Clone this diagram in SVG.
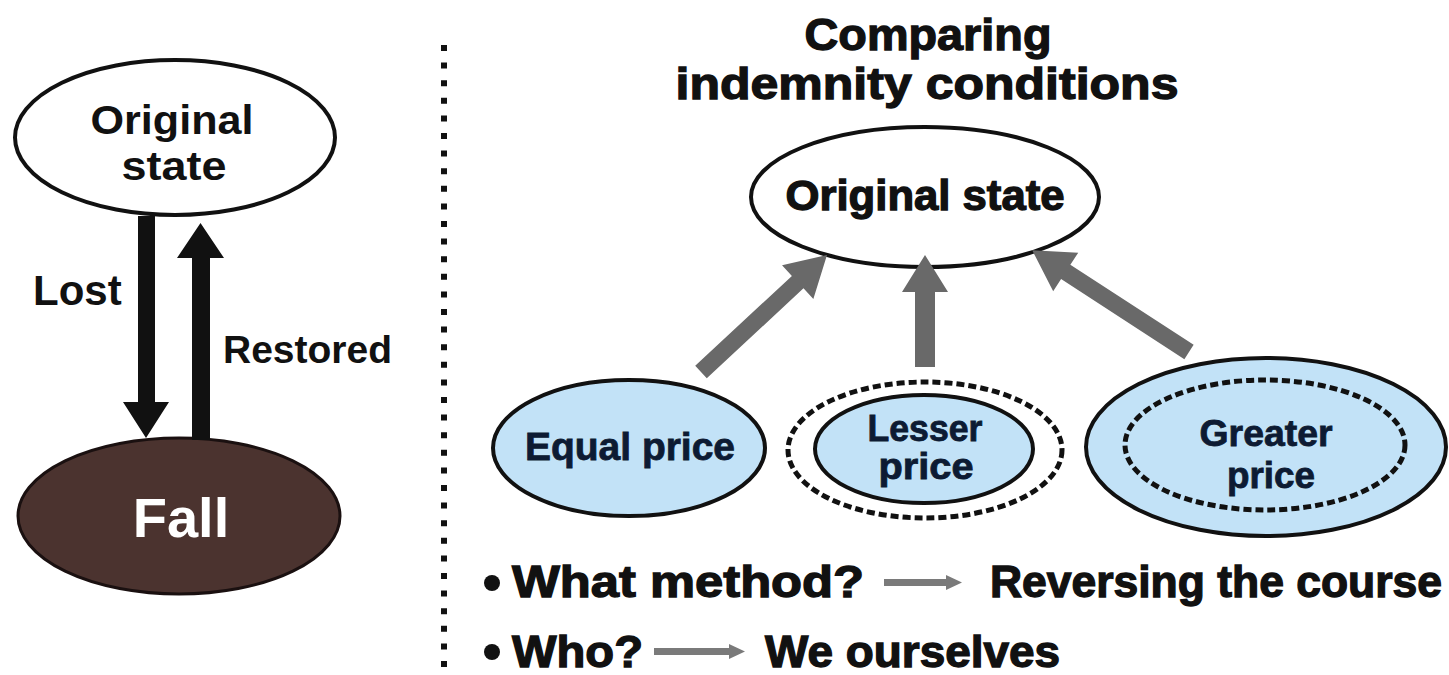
<svg xmlns="http://www.w3.org/2000/svg" width="1449" height="675" viewBox="0 0 1449 675">
<style>
  .t { font-family: "Liberation Sans", Arial, sans-serif; font-weight: bold; fill: #111; }
  .heavy { stroke: #111; stroke-width: 1.3; }
  .blue { fill: #c2e2f7; stroke: #111; stroke-width: 4; }
  .navy { fill: #0d1b33; stroke: #0d1b33; stroke-width: 0.8; }
  .dash { fill: none; stroke: #111; stroke-width: 5; stroke-dasharray: 8 4; }
  .garrow { fill: #696969; }
  .barrow { fill: #111; }
</style>
<rect width="1449" height="675" fill="#ffffff"/>

<!-- separator -->
<line x1="444" y1="45" x2="444" y2="675" stroke="#111" stroke-width="6" stroke-dasharray="6 11.6"/>

<!-- Left side nodes -->
<g id="left-original">
  <ellipse cx="175" cy="137.5" rx="160" ry="77.5" fill="#fff" stroke="#111" stroke-width="4"/>
  <text class="t" x="172" y="134" font-size="40" text-anchor="middle" textLength="163" lengthAdjust="spacingAndGlyphs">Original</text>
  <text class="t" x="174" y="180" font-size="40" text-anchor="middle" textLength="105" lengthAdjust="spacingAndGlyphs">state</text>
</g>
<g id="fall">
  <ellipse cx="179" cy="516" rx="161" ry="78" fill="#4b332f" stroke="#1a1010" stroke-width="3"/>
  <text class="t" x="181" y="537" font-size="56" text-anchor="middle" style="fill:#fff">Fall</text>
</g>

<!-- Right side title -->
<g id="title">
  <text class="t heavy" x="928" y="50" font-size="45" text-anchor="middle" textLength="247" lengthAdjust="spacingAndGlyphs">Comparing</text>
  <text class="t heavy" x="927" y="99" font-size="45" text-anchor="middle" textLength="503" lengthAdjust="spacingAndGlyphs">indemnity conditions</text>
</g>

<g id="right-original">
  <ellipse cx="925" cy="197" rx="174" ry="70" fill="#fff" stroke="#111" stroke-width="4"/>
  <text class="t heavy" x="925" y="210" font-size="43" text-anchor="middle" textLength="279" lengthAdjust="spacingAndGlyphs">Original state</text>
</g>

<g id="equal">
  <ellipse class="blue" cx="629" cy="448" rx="136" ry="68"/>
  <text class="t navy" x="630" y="460" font-size="38" text-anchor="middle" textLength="210" lengthAdjust="spacingAndGlyphs">Equal price</text>
</g>

<g id="lesser">
  <ellipse class="dash" cx="925" cy="450" rx="137" ry="68"/>
  <ellipse class="blue" cx="924" cy="449" rx="109" ry="54"/>
  <text class="t navy" x="925" y="441" font-size="36" text-anchor="middle" textLength="115" lengthAdjust="spacingAndGlyphs">Lesser</text>
  <text class="t navy" x="926" y="479" font-size="36" text-anchor="middle" textLength="95" lengthAdjust="spacingAndGlyphs">price</text>
</g>

<g id="greater">
  <ellipse class="blue" cx="1266" cy="447" rx="180" ry="89"/>
  <ellipse class="dash" cx="1265" cy="445" rx="140" ry="65"/>
  <text class="t navy" x="1266" y="446" font-size="36" text-anchor="middle" textLength="133" lengthAdjust="spacingAndGlyphs">Greater</text>
  <text class="t navy" x="1271" y="488" font-size="36" text-anchor="middle" textLength="88" lengthAdjust="spacingAndGlyphs">price</text>
</g>

<!-- Connectors -->
<g id="connectors">
  <!-- Lost (down) -->
  <path class="barrow" d="M138,216 H155 V402 H169 L146,438 L123,402 H138 Z"/>
  <!-- Restored (up) -->
  <path class="barrow" d="M192,440 V258 H177 L200.5,223 L224,258 H210 V440 Z"/>
  <!-- gray arrows to original state -->
  <path class="garrow" transform="translate(701,372) rotate(-42.9)" d="M0,-8.5 H132 V-23 L172,0 L132,23 V8.5 H0 Z"/>
  <path class="garrow" transform="translate(925,367) rotate(-90)" d="M0,-10 H75 V-23 L112,0 L75,23 V10 H0 Z"/>
  <path class="garrow" transform="translate(1189,352) rotate(-147)" d="M0,-8.5 H147 V-23 L187,0 L147,23 V8.5 H0 Z"/>
  <!-- small arrows in bullet lines -->
  <path fill="#7a7a7a" d="M884,579 H946 V575 L962,582.5 L946,590 V586 H884 Z"/>
  <path fill="#7a7a7a" d="M654,648 H729 V644 L745,651.5 L729,659 V655 H654 Z"/>
</g>

<!-- Left labels -->
<g id="labels">
  <text class="t" x="33" y="305" font-size="42">Lost</text>
  <text class="t" x="223" y="363" font-size="39">Restored</text>
</g>

<!-- Bullet lines -->
<g id="bullets">
  <circle cx="492" cy="583" r="8" fill="#111"/>
  <text class="t heavy" x="512" y="597" font-size="44" textLength="352" lengthAdjust="spacingAndGlyphs">What method?</text>
  <text class="t heavy" x="990" y="597" font-size="44" textLength="452" lengthAdjust="spacingAndGlyphs">Reversing the course</text>
  <circle cx="492" cy="652" r="8" fill="#111"/>
  <text class="t heavy" x="512" y="667" font-size="44" textLength="131" lengthAdjust="spacingAndGlyphs">Who?</text>
  <text class="t heavy" x="765" y="667" font-size="44" textLength="295" lengthAdjust="spacingAndGlyphs">We ourselves</text>
</g>
</svg>
